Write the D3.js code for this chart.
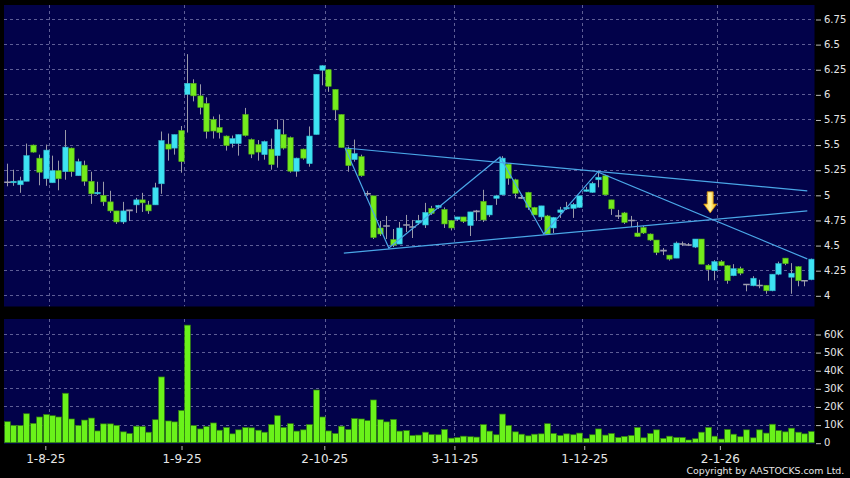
<!DOCTYPE html>
<html><head><meta charset="utf-8">
<script src="https://cdn.jsdelivr.net/npm/d3@7"></script>
<style>body{margin:0;background:#000}svg{display:block}</style>
</head><body>
<svg id="chart" width="850" height="478"></svg>
<script>
// ---- data ----
const openP = [5.125,5.12,5.10,5.135,5.495,5.365,5.16,5.12,5.24,5.23,
5.465,5.19,5.295,5.135,5.01,4.995,4.93,4.84,4.73,4.845,
4.90,4.95,4.90,4.90,5.11,5.505,5.465,5.64,6.0,6.11,
5.985,5.91,5.75,5.67,5.585,5.51,5.51,5.80,5.55,5.50,
5.40,5.455,5.39,5.60,5.57,5.235,5.455,5.31,5.60,6.24,
6.245,6.05,5.80,5.455,5.35,5.38,5.01,4.99,4.67,4.69,
4.555,4.51,4.70,4.68,4.72,4.70,4.865,4.875,4.855,4.745,
4.755,4.78,4.695,4.835,4.935,4.80,4.965,5.0,5.305,5.15,
4.97,5.025,4.875,4.78,4.79,4.67,4.825,4.86,4.865,4.875,
5.04,5.025,5.15,5.19,4.95,4.79,4.82,4.745,4.62,4.675,
4.61,4.55,4.445,4.40,4.37,4.51,4.50,4.48,4.56,4.30,
4.245,4.335,4.295,4.195,4.265,4.107,4.095,4.097,4.10,4.045,
4.21,4.37,4.18,4.285,4.145,4.155];
const highP = [5.31,5.25,5.18,5.51,5.50,5.40,5.50,5.39,5.34,5.645,
5.47,5.36,5.34,5.23,5.13,5.13,5.04,4.84,4.93,4.85,
4.97,5.02,4.94,5.12,5.63,5.61,5.60,5.685,6.40,6.15,
6.10,5.97,5.78,5.80,5.59,5.59,5.60,5.865,5.56,5.545,
5.54,5.56,5.75,5.75,5.58,5.37,5.46,5.68,6.20,6.29,
6.25,6.05,5.80,5.48,5.55,5.40,5.04,4.99,4.74,4.79,
4.66,4.73,4.80,4.75,4.80,4.92,4.89,4.90,4.875,4.75,
4.78,4.78,4.83,4.85,5.05,4.89,5.0,5.385,5.31,5.16,
5.0,5.03,4.88,4.89,4.80,4.78,4.88,4.93,4.92,4.99,
5.08,5.13,5.23,5.20,4.95,4.85,4.83,4.79,4.73,4.69,
4.615,4.55,4.47,4.40,4.535,4.535,4.52,4.56,4.56,4.31,
4.35,4.35,4.30,4.31,4.285,4.11,4.19,4.155,4.10,4.21,
4.335,4.37,4.32,4.29,4.145,4.365];
const lowP = [5.085,5.09,5.02,5.135,5.42,5.095,5.09,5.12,5.045,5.15,
5.18,5.19,5.09,4.91,5.0,4.89,4.82,4.71,4.71,4.74,
4.82,4.83,4.81,4.90,5.01,5.34,5.40,5.22,5.62,5.93,
5.80,5.56,5.56,5.56,5.44,5.47,5.39,5.58,5.365,5.34,
5.35,5.25,5.27,5.45,5.22,5.18,5.35,5.28,5.60,6.09,
6.025,5.74,5.47,5.23,5.33,5.18,4.99,4.56,4.59,4.56,
4.48,4.51,4.63,4.57,4.70,4.67,4.80,4.86,4.67,4.645,
4.74,4.72,4.59,4.74,4.73,4.78,4.90,5.0,5.10,4.965,
4.96,4.85,4.80,4.75,4.60,4.62,4.77,4.85,4.77,4.87,
5.03,5.02,5.075,5.0,4.80,4.76,4.71,4.68,4.58,4.61,
4.54,4.40,4.40,4.345,4.37,4.49,4.49,4.47,4.31,4.145,
4.15,4.29,4.115,4.19,4.20,4.04,4.09,4.07,4.015,4.04,
4.20,4.30,4.015,4.09,4.09,4.15];
const closeP = [5.125,5.135,5.14,5.39,5.425,5.225,5.445,5.24,5.16,5.475,
5.23,5.33,5.135,5.01,5.025,4.93,4.84,4.73,4.84,4.845,
4.95,4.92,4.84,5.07,5.54,5.455,5.60,5.33,6.11,5.985,
5.87,5.63,5.635,5.62,5.49,5.56,5.60,5.59,5.405,5.425,
5.53,5.30,5.65,5.465,5.235,5.365,5.365,5.585,6.20,6.285,
6.08,5.845,5.47,5.29,5.41,5.19,5.01,4.575,4.61,4.69,
4.50,4.67,4.70,4.68,4.745,4.825,4.815,4.895,4.71,4.67,
4.78,4.735,4.83,4.835,4.75,4.895,4.99,5.365,5.165,5.015,
4.97,4.875,4.80,4.89,4.61,4.775,4.85,4.875,4.905,4.99,
5.05,5.115,5.175,5.0,4.86,4.79,4.725,4.745,4.585,4.62,
4.55,4.425,4.445,4.36,4.52,4.51,4.50,4.56,4.31,4.255,
4.335,4.295,4.145,4.265,4.22,4.107,4.17,4.097,4.045,4.21,
4.315,4.315,4.22,4.145,4.145,4.36];
const volumeK = [11.6,9.6,9.5,16,10.7,14.2,15.6,14.9,14.2,27.3,
13.1,9.5,12.5,13.6,6.5,10.4,10.4,9.6,6.0,5.1,
9.1,8.9,5.8,12.7,36.3,12,11.5,17.8,64.9,9.5,
7.6,8.9,10.9,6.9,8.4,4.9,7.1,8.4,8.2,6.9,
5.8,10,14.9,8.4,10.5,6.4,7.1,10,29.1,14.2,
6.5,5.1,9.1,7.3,13.3,13.1,12.2,23.6,12.7,11.5,
12.9,6.4,6.7,4,4.2,5.8,4.5,4.4,7.3,2.5,
2.9,3.6,3.3,3.1,10,6.4,4.4,15.8,9.5,6,
4.7,3.8,4.7,4.9,10.5,5.1,4,4.9,4.4,5.3,
2.4,4.4,7.6,4.2,5.1,2.9,3.5,4,8.4,2.7,
5.1,7.1,2.4,3.6,2.9,2.9,1.5,2.2,5.8,8.4,
3.6,2,7.3,4.7,3.3,7.1,2.7,7.1,5.3,10.2,
6.7,6,8,5.8,4.9,6.2];
const dateTickLabels = ["1-8-25","1-9-25","2-10-25","3-11-25","1-12-25","2-1-26"];
const dateTickIndex = [5.96,27.15,49.36,69.6,89.8,110.9];
const dateGridIndex = [6.58,27.5,49.5,69.6,89.5,110.5];
const priceTicks = [4,4.25,4.5,4.75,5,5.25,5.5,5.75,6,6.25,6.5,6.75];
const volumeTicks = [0,10000,20000,30000,40000,50000,60000];
const trendLines = [
  [[52.6,5.466],[124.5,5.039]],
  [[52.4,4.42],[124.5,4.84]],
  [[52.6,5.466],[59.4,4.47],[76.7,5.377],[83.5,4.61],[91.9,5.228],[124.5,4.362]]
];
const arrowMark = {index:109.4, top:5.03, bottom:4.82};
const copyright = "Copyright by AASTOCKS.com Ltd.";

// ---- drawing ----
const svg = d3.select("#chart");
const W = 850, H = 478;
const P = {left:4, right:814.5, top:5, bottom:306.5};
const V = {left:4, right:814.5, top:319, bottom:444};
const n = closeP.length;

const x = d3.scaleLinear().domain([0, n-1]).range([7, 810.5]);
const y = d3.scaleLinear().domain([4, 6.75]).range([295.3, 19]);
const yv = d3.scaleLinear().domain([0, 60000]).range([442.7, 334]);

svg.append("rect").attr("width",W).attr("height",H).attr("fill","#000");
const navy = "#02024a";
svg.append("rect").attr("x",P.left).attr("y",P.top).attr("width",P.right-P.left).attr("height",P.bottom-P.top).attr("fill",navy);
svg.append("rect").attr("x",V.left).attr("y",V.top).attr("width",V.right-V.left).attr("height",V.bottom-V.top).attr("fill",navy);

const defs = svg.append("defs");
defs.append("clipPath").attr("id","clipP").append("rect").attr("x",P.left).attr("y",P.top).attr("width",P.right-P.left).attr("height",P.bottom-P.top);
defs.append("clipPath").attr("id","clipV").append("rect").attr("x",V.left).attr("y",V.top).attr("width",V.right-V.left).attr("height",V.bottom-V.top);
const grad = defs.append("linearGradient").attr("id","arrowGrad").attr("x1","0").attr("x2","1").attr("y1","0").attr("y2","0");
grad.append("stop").attr("offset","0%").attr("stop-color","#ffd23a");
grad.append("stop").attr("offset","50%").attr("stop-color","#fff3a0");
grad.append("stop").attr("offset","100%").attr("stop-color","#f5b800");

const gridColor = "#5e5e96";
// price grid
const gP = svg.append("g").attr("clip-path","url(#clipP)");
gP.selectAll("line.h").data(priceTicks).join("line")
  .attr("x1",P.left).attr("x2",P.right)
  .attr("y1",d=>Math.round(y(d))+0.5).attr("y2",d=>Math.round(y(d))+0.5)
  .attr("stroke",gridColor).attr("stroke-dasharray","3,3").attr("stroke-width",1);
gP.selectAll("line.v").data(dateGridIndex).join("line")
  .attr("x1",d=>Math.round(x(d))+0.5).attr("x2",d=>Math.round(x(d))+0.5)
  .attr("y1",P.top).attr("y2",P.bottom)
  .attr("stroke",gridColor).attr("stroke-dasharray","3,3").attr("stroke-width",1);

// volume grid
const gV = svg.append("g").attr("clip-path","url(#clipV)");
gV.selectAll("line.h").data(volumeTicks.filter(d=>d>0)).join("line")
  .attr("x1",V.left).attr("x2",V.right)
  .attr("y1",d=>Math.round(yv(d))+0.5).attr("y2",d=>Math.round(yv(d))+0.5)
  .attr("stroke",gridColor).attr("stroke-dasharray","3,3");
gV.selectAll("line.v").data(dateGridIndex).join("line")
  .attr("x1",d=>Math.round(x(d))+0.5).attr("x2",d=>Math.round(x(d))+0.5)
  .attr("y1",V.top).attr("y2",V.bottom)
  .attr("stroke",gridColor).attr("stroke-dasharray","3,3");

// candles
const upFill = "#3ee3f3", downFill = "#74ec1c";
const candles = gP.append("g");
const idx = d3.range(n);
candles.selectAll("line.wick").data(idx).join("line")
  .attr("x1",i=>Math.round(x(i))+0.5).attr("x2",i=>Math.round(x(i))+0.5)
  .attr("y1",i=>y(highP[i])).attr("y2",i=>y(lowP[i]))
  .attr("stroke","#9a9aa8").attr("stroke-width",1);
const bw = 5.4;
candles.selectAll("rect.body").data(idx.filter(i=>closeP[i]!==openP[i])).join("rect")
  .attr("x",i=>Math.round(x(i))+0.5-bw/2).attr("width",bw)
  .attr("y",i=>y(Math.max(openP[i],closeP[i])))
  .attr("height",i=>Math.max(1.5, Math.abs(y(openP[i])-y(closeP[i]))))
  .attr("fill",i=>closeP[i]>openP[i]?upFill:downFill)
  .attr("stroke",i=>closeP[i]>openP[i]?"#2fb6c8":"#4fa814")
  .attr("stroke-width",0.6);
candles.selectAll("line.doji").data(idx.filter(i=>closeP[i]===openP[i])).join("line")
  .attr("x1",i=>Math.round(x(i))+0.5-3.3).attr("x2",i=>Math.round(x(i))+0.5+3.3)
  .attr("y1",i=>y(closeP[i])).attr("y2",i=>y(closeP[i]))
  .attr("stroke","#a0a0b0").attr("stroke-width",1.6);

// trend lines
const lineGen = d3.line().x(d=>x(d[0])).y(d=>y(d[1]));
gP.selectAll("path.trend").data(trendLines).join("path")
  .attr("d",lineGen).attr("fill","none").attr("stroke","#4aa6e6").attr("stroke-width",1.2);

// arrow annotation
{
  const ax = x(arrowMark.index), t = y(arrowMark.top), b = y(arrowMark.bottom);
  const hh = (b-t)*0.42;
  const path = `M${ax-3},${t} L${ax+3},${t} L${ax+3},${b-hh} L${ax+6.5},${b-hh} L${ax},${b} L${ax-6.5},${b-hh} L${ax-3},${b-hh} Z`;
  gP.append("path").attr("d",path).attr("fill","url(#arrowGrad)").attr("stroke","#d08a00").attr("stroke-width",0.8);
}

// volume bars
gV.selectAll("rect.vol").data(idx).join("rect")
  .attr("x",i=>Math.round(x(i))+0.5-2.9).attr("width",5.8)
  .attr("y",i=>yv(volumeK[i]*1000)).attr("height",i=>yv(0)-yv(volumeK[i]*1000))
  .attr("fill","#6af21a").attr("stroke","#2f7a10").attr("stroke-width",0.7);

// axes
const textColor = "#e6e6e6";
const fmtP = d => String(d);
const axP = svg.append("g").attr("transform",`translate(816,0)`)
  .call(d3.axisRight(y).tickValues(priceTicks).tickFormat(fmtP).tickSizeInner(5).tickSizeOuter(0).tickPadding(3));
const axV = svg.append("g").attr("transform",`translate(816,0)`)
  .call(d3.axisRight(yv).tickValues(volumeTicks).tickFormat(d=>d===0?"0":(d/1000)+"K").tickSizeInner(5).tickSizeOuter(0).tickPadding(3));
[axP,axV].forEach(a=>{
  a.select(".domain").remove();
  a.selectAll(".tick line").attr("stroke","#bbbbbb").attr("transform","translate(0,0.5)");
  a.selectAll("text").attr("fill",textColor).attr("font-family","DejaVu Sans, sans-serif").attr("font-size","10px");
});
const axX = svg.append("g").attr("transform","translate(0,446)")
  .call(d3.axisBottom(x).tickValues(dateTickIndex)
    .tickFormat((d,i)=>dateTickLabels[i]).tickSizeInner(4).tickSizeOuter(0).tickPadding(4));
axX.select(".domain").remove();
axX.selectAll(".tick line").attr("stroke","#bbbbbb");
axX.selectAll("text").attr("fill",textColor).attr("font-family","DejaVu Sans, sans-serif").attr("font-size","12px");

svg.append("text").attr("x",844.3).attr("y",473.5).attr("text-anchor","end")
  .attr("fill",textColor).attr("font-family","DejaVu Sans, sans-serif").attr("font-size","9.4px")
  .text(copyright);
</script>
</body></html>
